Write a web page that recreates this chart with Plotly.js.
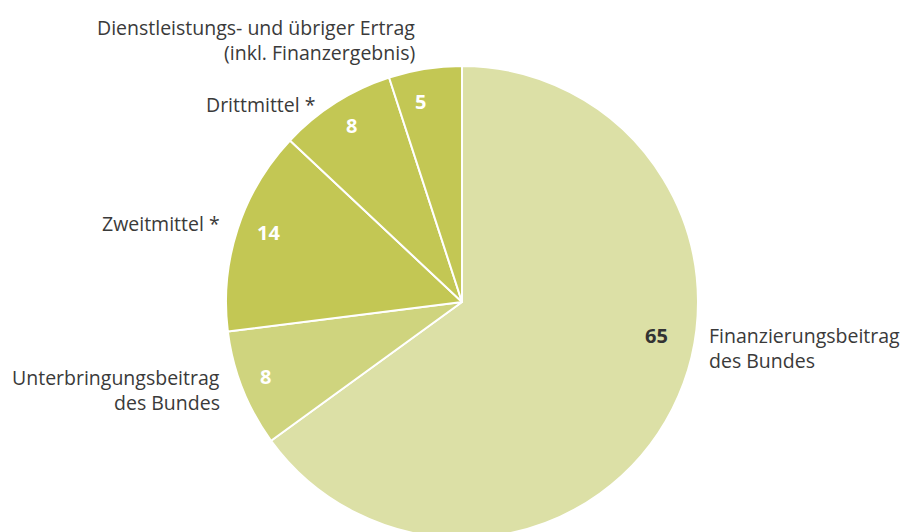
<!DOCTYPE html>
<html>
<head>
<meta charset="utf-8">
<script src="https://cdn.plot.ly/plotly-3.0.1.min.js"></script>
<style>
html,body{margin:0;padding:0;overflow:hidden;background:#fff;width:902px;height:532px;}
#chart{width:902px;height:600px;}
</style>
</head>
<body>
<div id="chart"></div>
<script>
// Data
const labels = [
  "Finanzierungsbeitrag des Bundes",
  "Unterbringungsbeitrag des Bundes",
  "Zweitmittel *",
  "Drittmittel *",
  "Dienstleistungs- und übriger Ertrag (inkl. Finanzergebnis)"
];
const labelLines = [
  ["Finanzierungsbeitrag", "des Bundes"],
  ["Unterbringungsbeitrag", "des Bundes"],
  ["Zweitmittel *"],
  ["Drittmittel *"],
  ["Dienstleistungs- und übriger Ertrag", "(inkl. Finanzergebnis)"]
];
const values = [65, 8, 14, 8, 5];
const colors = ["#dce0a6", "#cfd47e", "#c3c754", "#c3c754", "#c3c754"];

// Layout helpers (pixel -> paper)
const W = 902, H = 600;
const cx = 462, cy = 302, R = 236;
const px = x => x / W;
const py = y => 1 - y / H;

// value label positions (pixels) and colours
const valuePos = [[656, 335], [265, 376], [268, 232], [351, 125], [420, 101]];
const valueColor = ["#333333", "#ffffff", "#ffffff", "#ffffff", "#ffffff"];
// category label anchors: [x, firstLineY, xanchor]
const labelPos = [[707, 335, "left"], [222, 377, "right"], [222, 224, "right"], [318, 104, "right"], [417, 27, "right"]];
const lineGap = 25;

const annotations = [];
values.forEach((v, i) => {
  annotations.push({
    xref: "paper", yref: "paper",
    x: px(valuePos[i][0]), y: py(valuePos[i][1]),
    xanchor: "center", yanchor: "middle",
    text: "<b>" + v + "</b>", showarrow: false,
    font: {family: "Open Sans, Noto Sans, sans-serif", size: 20, color: valueColor[i]}
  });
  labelLines[i].forEach((line, j) => {
    annotations.push({
      xref: "paper", yref: "paper",
      x: px(labelPos[i][0]), y: py(labelPos[i][1] + j * lineGap),
      xanchor: labelPos[i][2], yanchor: "middle",
      text: line, showarrow: false,
      font: {family: "Open Sans, Noto Sans, sans-serif", size: 19.5, color: "#3a3a3a"}
    });
  });
});

const trace = {
  type: "pie",
  labels: labels,
  values: values,
  sort: false,
  direction: "clockwise",
  rotation: 0,
  marker: {colors: colors, line: {color: "#ffffff", width: 2}},
  textinfo: "none",
  hoverinfo: "label+value",
  domain: {x: [px(cx - R), px(cx + R)], y: [py(cy + R), py(cy - R)]},
  showlegend: false
};

const layout = {
  width: W, height: H,
  margin: {l: 0, r: 0, t: 0, b: 0},
  paper_bgcolor: "#ffffff",
  showlegend: false,
  annotations: annotations
};

Plotly.newPlot("chart", [trace], layout, {displayModeBar: false, staticPlot: true});
</script>
</body>
</html>
